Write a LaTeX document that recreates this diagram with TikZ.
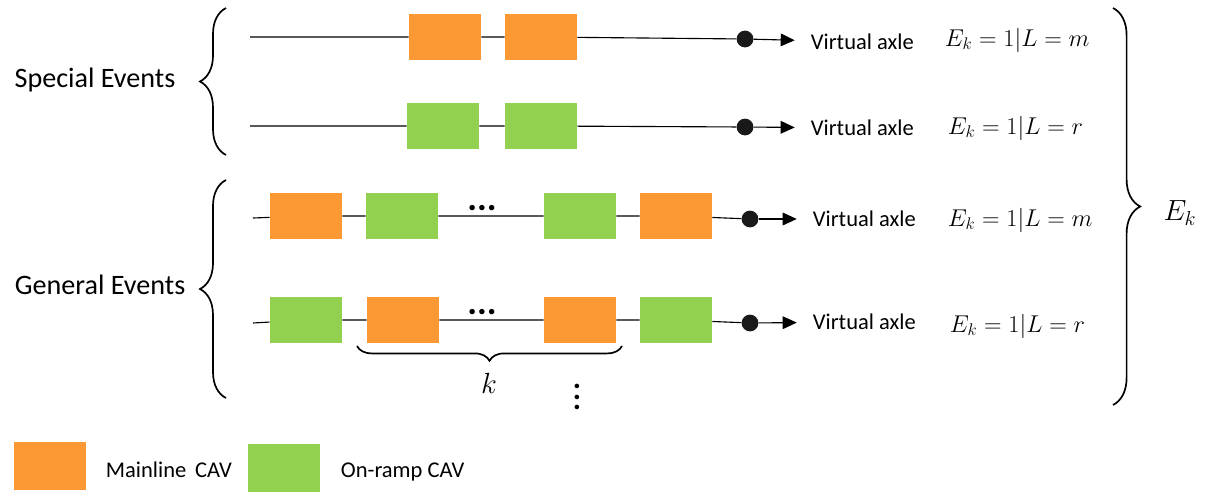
\documentclass[tikz,border=0pt]{standalone}
\usepackage[no-math]{fontspec}
\setmainfont{Carlito}
\usepackage{amsmath,amssymb}
\usetikzlibrary{arrows.meta,decorations.pathreplacing}
\definecolor{mainorange}{RGB}{252,153,52}
\definecolor{rampgreen}{RGB}{146,208,80}

\begin{document}
\begin{tikzpicture}[x=0.025cm,y=-0.025cm,
    cav/.style={minimum width=1.8cm,minimum height=1.15cm,inner sep=0pt},
    mcav/.style={cav,fill=mainorange},
    rcav/.style={cav,fill=rampgreen},
    axdot/.style={circle,fill=black!90,inner sep=0pt,minimum size=0.42cm},
    lane/.style={line width=0.8pt},
    toaxle/.style={line width=0.8pt,-{Triangle[length=10pt,width=9pt]},shorten >=8pt},
    axlab/.style={anchor=west,font=\fontsize{16}{19}\selectfont},
    eqlab/.style={anchor=west,font=\LARGE},
    grp/.style={line width=1.2pt,decorate,decoration={brace,amplitude=0.65cm}},
    grplab/.style={font=\fontsize{20}{24}\selectfont},
    etc/.style={font=\fontsize{26}{26}\selectfont\bfseries}]
  \useasboundingbox (0,0) rectangle (1212,494);

  % special events, mainline
  \coordinate (st1) at (250,37);
  \node[mcav] (a1) at (445,37) {};
  \node[mcav] (a2) at (541,37) {};
  \node[axdot] (d1) at (745,39) {};
  \node[axlab] (t1) at (806,42) {Virtual axle};
  \node[eqlab] (e1) at (940,40) {$E_k = 1|L = m$};
  \draw[lane] (st1) -- (a1) -- (a2) -- (d1);
  \draw[toaxle] (d1) -- (t1);

  % special events, on-ramp
  \coordinate (st2) at (250,126);
  \node[rcav] (b1) at (443,126) {};
  \node[rcav] (b2) at (541,126) {};
  \node[axdot] (d2) at (745,127) {};
  \node[axlab] (t2) at (806,128) {Virtual axle};
  \node[eqlab] (e2) at (943,128) {$E_k = 1|L = r$};
  \draw[lane] (st2) -- (b1) -- (b2) -- (d2);
  \draw[toaxle] (d2) -- (t2);

  % general events, mainline last
  \coordinate (st3) at (253,218);
  \node[mcav] (c1) at (306,216) {};
  \node[rcav] (c2) at (402,216) {};
  \node[etc] (h3) at (482,208) {...};
  \node[rcav] (c3) at (580,216) {};
  \node[mcav] (c4) at (676,216) {};
  \node[axdot] (d3) at (750,219) {};
  \node[axlab] (t3) at (808,219) {Virtual axle};
  \node[eqlab] (e3) at (943,220) {$E_k = 1|L = m$};
  \draw[lane] (st3) -- (c1) -- (c2) -- (c3) -- (c4) -- (d3);
  \draw[toaxle] (d3) -- (t3);

  % general events, on-ramp last
  \coordinate (st4) at (253,323);
  \node[rcav] (f1) at (306,320) {};
  \node[mcav] (f2) at (403,320) {};
  \node[etc] (h4) at (482,312) {...};
  \node[mcav] (f3) at (580,320) {};
  \node[rcav] (f4) at (676,320) {};
  \node[axdot] (d4) at (750,323) {};
  \node[axlab] (t4) at (808,322) {Virtual axle};
  \node[eqlab] (e4) at (945,326) {$E_k = 1|L = r$};
  \draw[lane] (st4) -- (f1) -- (f2) -- (f3) -- (f4) -- (d4);
  \draw[toaxle] (d4) -- (t4);

  % k vehicles
  \coordinate (kr) at (622,346);
  \coordinate (kl) at (357,346);
  \draw[line width=1.2pt,decorate,decoration={brace,amplitude=0.37cm}] (kr) -- (kl);
  \node[font=\huge] (kk) at (489,383) {$k$};
  \node[align=center,font=\fontsize{22}{7.5}\selectfont\bfseries] (vd) at (577,397) {.\\.\\.};

  % groups
  \coordinate (sb) at (226,155);
  \coordinate (stp) at (226,8);
  \draw[grp] (sb) -- (stp);
  \node[grplab] (spec) at (95,80) {Special Events};
  \coordinate (gb) at (226,398);
  \coordinate (gt) at (226,180);
  \draw[grp] (gb) -- (gt);
  \node[grplab] (gen) at (100,285) {General Events};
  \coordinate (rt) at (1113,8);
  \coordinate (rb) at (1113,405);
  \draw[line width=1.2pt,decorate,decoration={brace,amplitude=0.68cm}] (rt) -- (rb);
  \node[font=\huge] (ek) at (1180,213) {$E_k$};

  % legend
  \node[mcav,minimum height=1.2cm] (lm) at (50,466) {};
  \node[anchor=west,font=\fontsize{16}{19}\selectfont] (lmt) at (101,470) {Mainline\, CAV};
  \node[rcav,minimum height=1.2cm] (lr) at (284,468) {};
  \node[anchor=west,font=\fontsize{16}{19}\selectfont] (lrt) at (336,472) {On-ramp CAV};
\end{tikzpicture}
\end{document}
